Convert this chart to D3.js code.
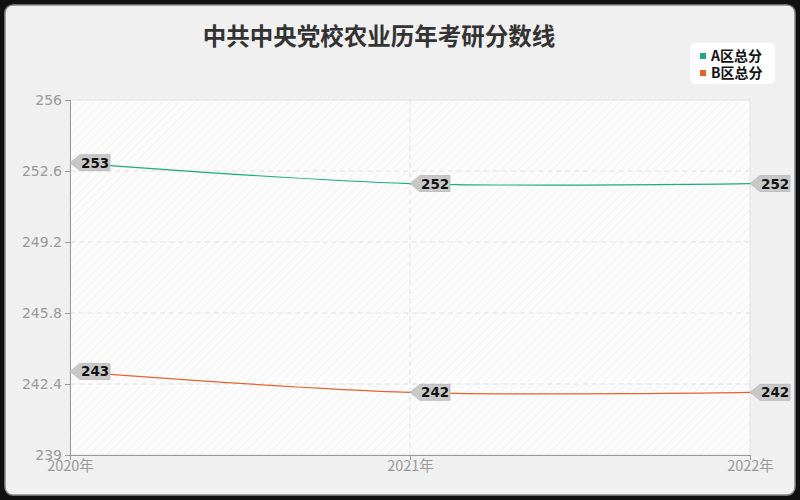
<!DOCTYPE html>
<html lang="zh">
<head>
<meta charset="UTF-8">
<title>中共中央党校农业历年考研分数线</title>
<style>
  html, body { margin: 0; padding: 0; background: #111; }
  svg { display: block; font-family: "Noto Sans CJK SC", "DejaVu Sans", sans-serif; }
</style>
</head>
<body>
<div id="chart"></div>
<script src="https://d3js.org/d3.v7.min.js"></script>
<script>
// data
var years = ["2020年", "2021年", "2022年"];
var seriesNames = ["A区总分", "B区总分"];
var scoresA = [253, 252, 252];
var scoresB = [243, 242, 242];
var yTicks = [239, 242.4, 245.8, 249.2, 252.6, 256];
var colors = ["#1bad7e", "#e8622f"];

var W = 800, H = 500;
var margin = { top: 100, right: 50, bottom: 45, left: 70 };
var width = W - margin.left - margin.right,
    height = H - margin.top - margin.bottom;

var svg = d3.select("#chart").append("svg")
    .attr("width", W)
    .attr("height", H);

// card background
svg.append("rect")
    .attr("x", 5).attr("y", 5)
    .attr("width", W - 10).attr("height", H - 10)
    .attr("rx", 8)
    .attr("fill", "#f0f0f0")
    .attr("stroke", "#8a8a8a")
    .attr("stroke-width", 1.5);

// hatch pattern for plot area
var defs = svg.append("defs");
var pat = defs.append("pattern")
    .attr("id", "hatch")
    .attr("patternUnits", "userSpaceOnUse")
    .attr("width", 6).attr("height", 6)
    .attr("patternTransform", "rotate(45)");
pat.append("rect").attr("width", 6).attr("height", 6).attr("fill", "#fcfcfc");
pat.append("line").attr("x1", 0).attr("y1", 0).attr("x2", 0).attr("y2", 6)
    .attr("stroke", "#ececec").attr("stroke-width", 1.2);

svg.append("text")
    .attr("x", 379).attr("y", 45)
    .attr("text-anchor", "middle")
    .attr("font-size", 23.5)
    .attr("font-weight", "bold")
    .attr("fill", "#333")
    .text("中共中央党校农业历年考研分数线");

var g = svg.append("g")
    .attr("transform", "translate(" + margin.left + "," + margin.top + ")");

var x = d3.scalePoint().domain(years).range([0, width]);
var y = d3.scaleLinear().domain([239, 256]).range([height, 0]);

g.append("rect")
    .attr("width", width).attr("height", height)
    .attr("fill", "url(#hatch)")
    .attr("stroke", "#e2e2e2");

// grid
g.selectAll(".hgrid").data(yTicks.slice(1, -1)).enter().append("line")
    .attr("x1", 0).attr("x2", width)
    .attr("y1", function (d) { return y(d); })
    .attr("y2", function (d) { return y(d); })
    .attr("stroke", "#e0e0e0")
    .attr("stroke-dasharray", "5,4");
g.selectAll(".vgrid").data(years.slice(1, -1)).enter().append("line")
    .attr("x1", function (d) { return x(d); })
    .attr("x2", function (d) { return x(d); })
    .attr("y1", 0).attr("y2", height)
    .attr("stroke", "#e0e0e0")
    .attr("stroke-dasharray", "5,4");

// axes
var yAxis = g.append("g")
    .call(d3.axisLeft(y).tickValues(yTicks).tickSize(5).tickPadding(3)
        .tickFormat(function (d) { return d3.format("")(d); }));
var xAxis = g.append("g")
    .attr("transform", "translate(0," + height + ")")
    .call(d3.axisBottom(x).tickSize(5).tickPadding(1));
[yAxis, xAxis].forEach(function (a) {
    a.select(".domain").attr("stroke", "#999");
    a.selectAll(".tick line").attr("stroke", "#999");
    a.selectAll(".tick text").attr("fill", "#999").attr("font-size", 14)
        .attr("font-family", "\"DejaVu Sans\", \"Noto Sans CJK SC\", sans-serif");
});
xAxis.selectAll(".tick text")
    .attr("font-size", 14.5)
    .attr("font-family", "\"Noto Sans CJK SC\", sans-serif");

// lines
var line = d3.line()
    .x(function (d, i) { return x(years[i]); })
    .y(function (d) { return y(d); })
    .curve(d3.curveCatmullRom.alpha(0.5));

[scoresA, scoresB].forEach(function (s, k) {
    g.append("path")
        .datum(s)
        .attr("fill", "none")
        .attr("stroke", colors[k])
        .attr("stroke-width", 1.2)
        .attr("d", line);

    var lab = g.selectAll(".lab" + k).data(s).enter().append("g")
        .attr("transform", function (d, i) {
            return "translate(" + x(years[i]) + "," + y(d) + ")";
        });
    lab.append("path")
        .attr("d", "M0,0 L10,-8 L40,-8 L40,8 L10,8 Z")
        .attr("fill", "#c8c8c8")
        .attr("stroke", "#b8b8b8")
        .attr("stroke-width", 0.8);
    lab.append("text")
        .attr("x", 11).attr("y", 5)
        .attr("font-size", 13.5)
        .attr("font-weight", "bold")
        .attr("font-family", "\"DejaVu Sans\", sans-serif")
        .attr("fill", "#111")
        .text(function (d) { return d; });
});

// legend
var leg = svg.append("g").attr("transform", "translate(690,43)");
leg.append("rect")
    .attr("width", 85).attr("height", 41).attr("rx", 5)
    .attr("fill", "#fff");
seriesNames.forEach(function (n, i) {
    leg.append("rect")
        .attr("x", 10).attr("y", 10 + i * 17)
        .attr("width", 6).attr("height", 6)
        .attr("fill", colors[i]);
    leg.append("text")
        .attr("x", 21).attr("y", 18 + i * 17)
        .attr("font-size", 14)
        .attr("font-weight", "bold")
        .attr("fill", "#111")
        .text(n);
});
</script>
</body>
</html>
